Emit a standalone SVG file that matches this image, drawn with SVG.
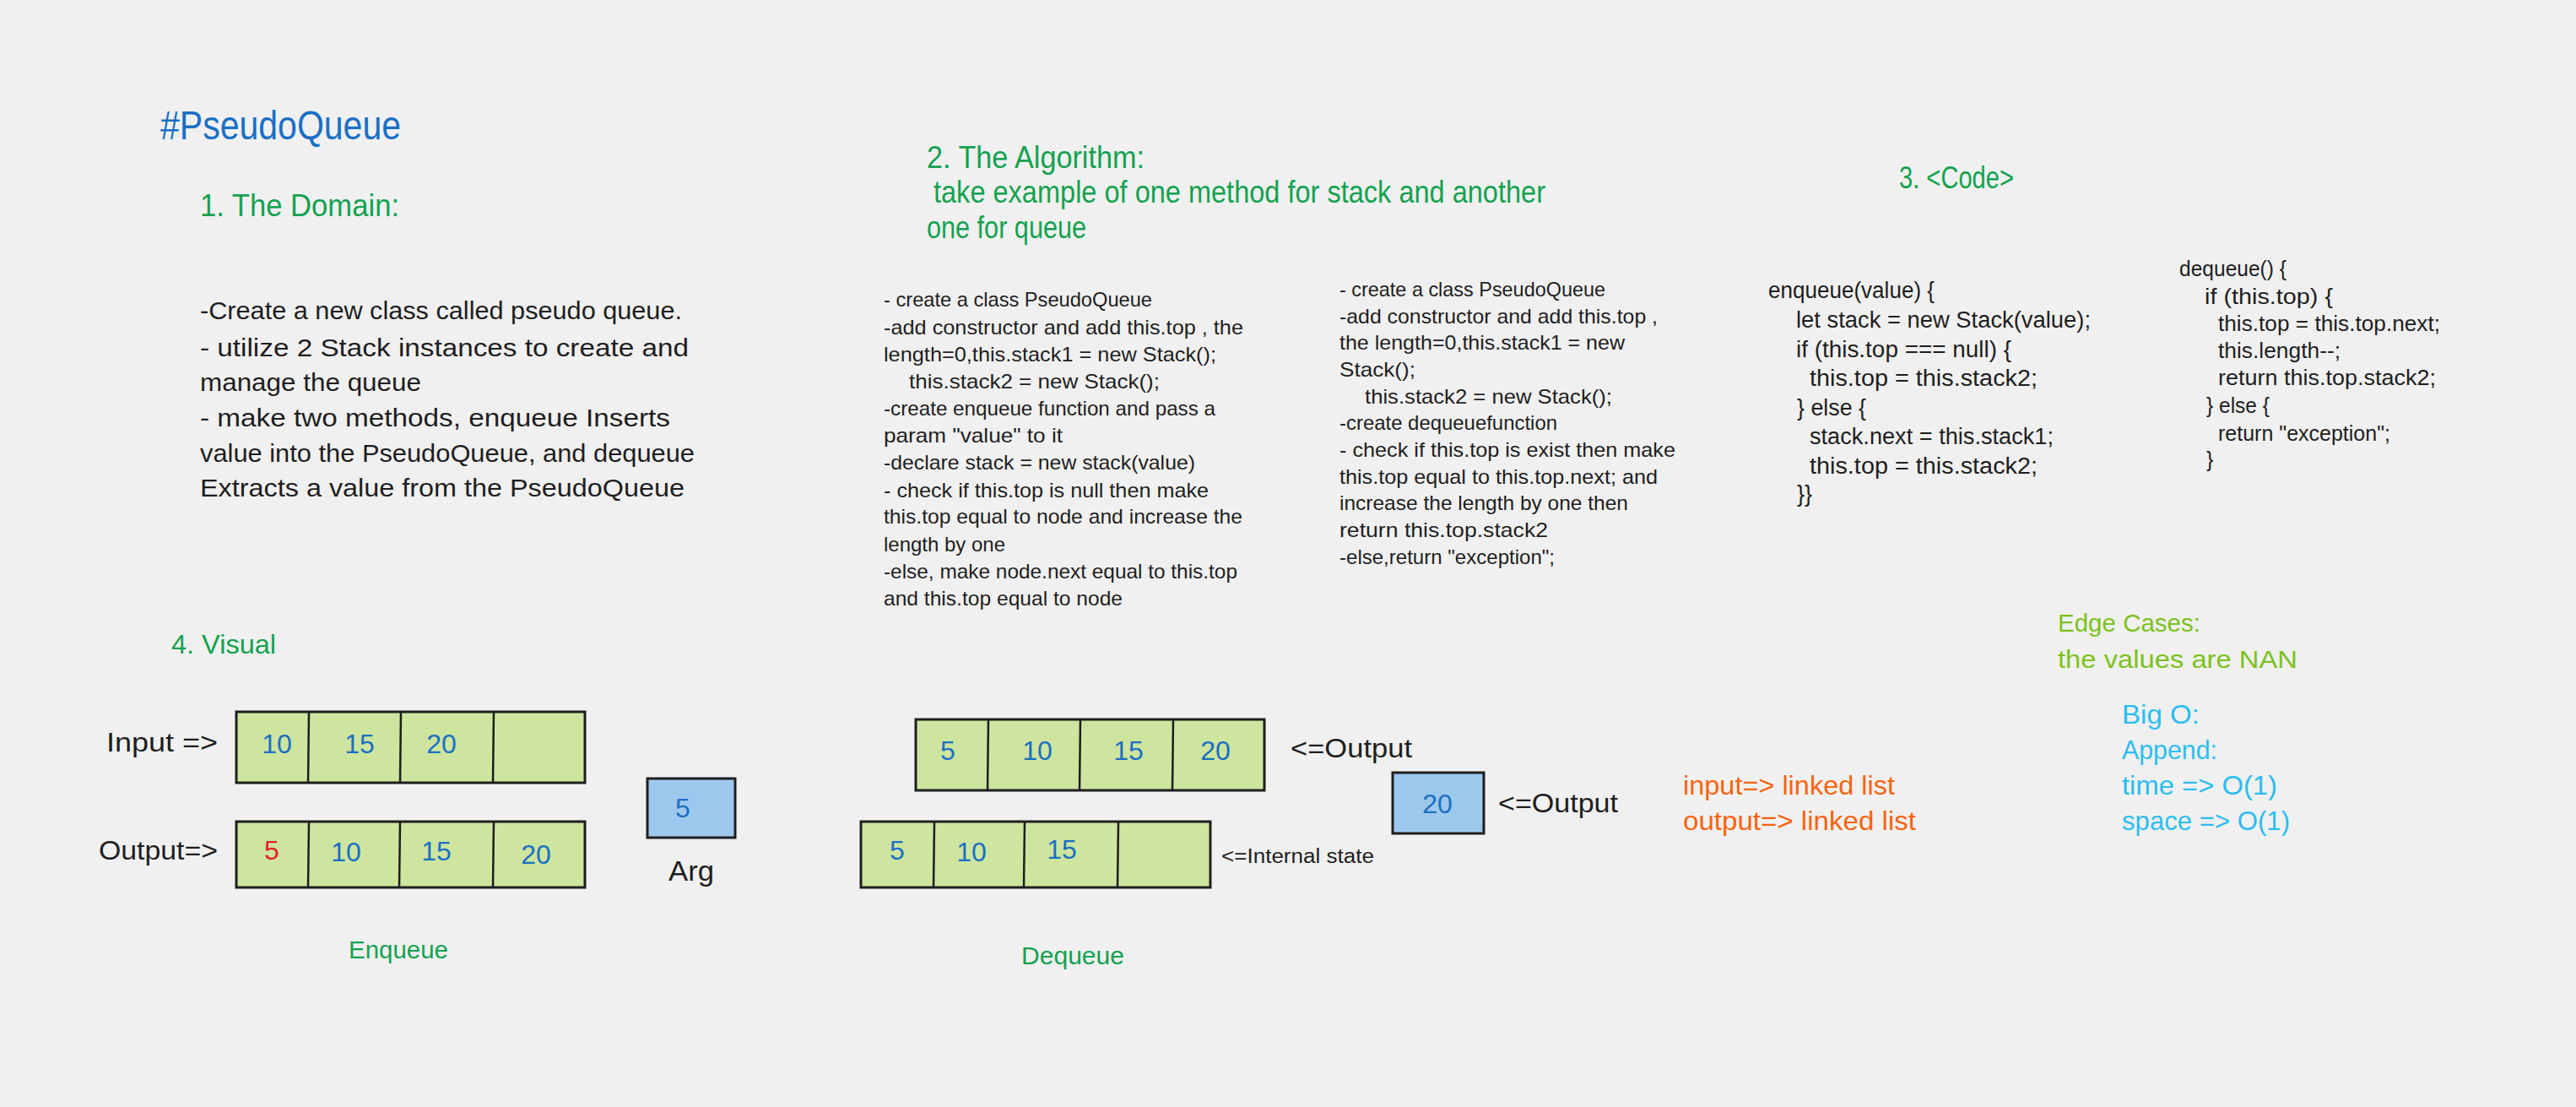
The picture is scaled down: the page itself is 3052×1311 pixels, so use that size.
<svg xmlns="http://www.w3.org/2000/svg" width="3052" height="1311" viewBox="0 0 3052 1311">
<style>
text{font-family:"Liberation Sans","DejaVu Sans",sans-serif;fill:#1e1e1e}
.title{font-size:48px;fill:#1a6fc4}
.h{font-size:37px;fill:#13a24f}
.body{font-size:30px}
.alg{font-size:24px}
.code{font-size:27px}
.dcode{font-size:25px}
.lbl{font-size:32px}
.small{font-size:23px}
.num{font-size:32px;fill:#1a6fc4;text-anchor:middle}
.red{fill:#e8202a}
.cap{font-size:30px;fill:#13a24f}
.orange{font-size:32px;fill:#f7640f}
.edge{font-size:30px;fill:#7bc21c}
.bigo{font-size:32px;fill:#2cbdf0}
.cell{fill:#cde59e;stroke:#1e1e1e;stroke-width:3}
.arg{fill:#9dc8ee;stroke:#1e1e1e;stroke-width:3}
.div{stroke:#1e1e1e;stroke-width:2.5}
</style>
<rect x="0" y="0" width="3052" height="1311" fill="#f0f0f0"/>

<g id="title"><text class="title" x="190" y="165" textLength="285" lengthAdjust="spacingAndGlyphs">#PseudoQueue</text></g>

<g id="domain">
<text class="h" x="237" y="256" textLength="236" lengthAdjust="spacingAndGlyphs">1. The Domain:</text>
<text class="body" x="237" y="378" textLength="571" lengthAdjust="spacingAndGlyphs">-Create a new class called pseudo queue.</text>
<text class="body" x="237" y="422" textLength="579" lengthAdjust="spacingAndGlyphs">- utilize 2 Stack instances to create and</text>
<text class="body" x="237" y="463" textLength="262" lengthAdjust="spacingAndGlyphs">manage the queue</text>
<text class="body" x="237" y="505" textLength="557" lengthAdjust="spacingAndGlyphs">- make two methods, enqueue  Inserts</text>
<text class="body" x="237" y="547" textLength="586" lengthAdjust="spacingAndGlyphs">value into the PseudoQueue, and dequeue</text>
<text class="body" x="237" y="588" textLength="574" lengthAdjust="spacingAndGlyphs">Extracts a value from the PseudoQueue</text>
</g>

<g id="algorithm">
<text class="h" x="1098" y="199" textLength="258" lengthAdjust="spacingAndGlyphs">2. The Algorithm:</text>
<text class="h" x="1106" y="240" textLength="725" lengthAdjust="spacingAndGlyphs">take example of one method for stack and another</text>
<text class="h" x="1098" y="282" textLength="189" lengthAdjust="spacingAndGlyphs">one for queue</text>
</g>

<g id="algorithm-enqueue">
<text class="alg" x="1047" y="363" textLength="318" lengthAdjust="spacingAndGlyphs">- create a class PseudoQueue</text>
<text class="alg" x="1047" y="396" textLength="426" lengthAdjust="spacingAndGlyphs">-add constructor and add this.top , the</text>
<text class="alg" x="1047" y="428" textLength="394" lengthAdjust="spacingAndGlyphs">length=0,this.stack1 = new Stack();</text>
<text class="alg" x="1077" y="460" textLength="297" lengthAdjust="spacingAndGlyphs">this.stack2 = new Stack();</text>
<text class="alg" x="1047" y="492" textLength="393" lengthAdjust="spacingAndGlyphs">-create enqueue function and pass a</text>
<text class="alg" x="1047" y="524" textLength="212" lengthAdjust="spacingAndGlyphs">param "value" to it</text>
<text class="alg" x="1047" y="556" textLength="369" lengthAdjust="spacingAndGlyphs">-declare stack = new stack(value)</text>
<text class="alg" x="1047" y="589" textLength="385" lengthAdjust="spacingAndGlyphs">- check if this.top is null then make</text>
<text class="alg" x="1047" y="620" textLength="425" lengthAdjust="spacingAndGlyphs">this.top equal to node and increase the</text>
<text class="alg" x="1047" y="653" textLength="144" lengthAdjust="spacingAndGlyphs">length by one</text>
<text class="alg" x="1047" y="685" textLength="419" lengthAdjust="spacingAndGlyphs">-else, make node.next equal to this.top</text>
<text class="alg" x="1047" y="717" textLength="283" lengthAdjust="spacingAndGlyphs">and this.top equal to node</text>
</g>

<g id="algorithm-dequeue">
<text class="alg" x="1587" y="351" textLength="315" lengthAdjust="spacingAndGlyphs">- create a class PseudoQueue</text>
<text class="alg" x="1587" y="383" textLength="377" lengthAdjust="spacingAndGlyphs">-add constructor and add this.top ,</text>
<text class="alg" x="1587" y="414" textLength="338" lengthAdjust="spacingAndGlyphs">the length=0,this.stack1 = new</text>
<text class="alg" x="1587" y="446" textLength="90" lengthAdjust="spacingAndGlyphs">Stack();</text>
<text class="alg" x="1617" y="478" textLength="293" lengthAdjust="spacingAndGlyphs">this.stack2 = new Stack();</text>
<text class="alg" x="1587" y="509" textLength="258" lengthAdjust="spacingAndGlyphs">-create dequeuefunction</text>
<text class="alg" x="1587" y="541" textLength="398" lengthAdjust="spacingAndGlyphs">- check if this.top is exist then make</text>
<text class="alg" x="1587" y="573" textLength="377" lengthAdjust="spacingAndGlyphs">this.top equal to this.top.next; and</text>
<text class="alg" x="1587" y="604" textLength="342" lengthAdjust="spacingAndGlyphs">increase the length by one then</text>
<text class="alg" x="1587" y="636" textLength="247" lengthAdjust="spacingAndGlyphs">return this.top.stack2</text>
<text class="alg" x="1587" y="668" textLength="255" lengthAdjust="spacingAndGlyphs">-else,return "exception";</text>
</g>

<g id="code">
<text class="h" x="2250" y="223" textLength="136" lengthAdjust="spacingAndGlyphs">3. &lt;Code&gt;</text>
</g>

<g id="code-enqueue">
<text class="code" x="2095" y="353" textLength="197" lengthAdjust="spacingAndGlyphs">enqueue(value) {</text>
<text class="code" x="2128" y="388" textLength="349" lengthAdjust="spacingAndGlyphs">let stack = new Stack(value);</text>
<text class="code" x="2128" y="423" textLength="255" lengthAdjust="spacingAndGlyphs">if (this.top === null) {</text>
<text class="code" x="2144" y="457" textLength="270" lengthAdjust="spacingAndGlyphs">this.top = this.stack2;</text>
<text class="code" x="2129" y="492" textLength="82" lengthAdjust="spacingAndGlyphs">} else {</text>
<text class="code" x="2144" y="526" textLength="289" lengthAdjust="spacingAndGlyphs">stack.next = this.stack1;</text>
<text class="code" x="2144" y="561" textLength="270" lengthAdjust="spacingAndGlyphs">this.top = this.stack2;</text>
<text class="code" x="2129" y="594">}}</text>
</g>

<g id="code-dequeue">
<text class="dcode" x="2582" y="327" textLength="127" lengthAdjust="spacingAndGlyphs">dequeue() {</text>
<text class="dcode" x="2612" y="360" textLength="152" lengthAdjust="spacingAndGlyphs">if (this.top) {</text>
<text class="dcode" x="2628" y="392" textLength="263" lengthAdjust="spacingAndGlyphs">this.top = this.top.next;</text>
<text class="dcode" x="2628" y="424" textLength="145" lengthAdjust="spacingAndGlyphs">this.length--;</text>
<text class="dcode" x="2628" y="456" textLength="258" lengthAdjust="spacingAndGlyphs">return this.top.stack2;</text>
<text class="dcode" x="2614" y="489" textLength="75" lengthAdjust="spacingAndGlyphs">} else {</text>
<text class="dcode" x="2628" y="522" textLength="204" lengthAdjust="spacingAndGlyphs">return "exception";</text>
<text class="dcode" x="2614" y="553">}</text>
</g>

<g id="visual-heading"><text class="lbl" x="203" y="774" style="fill:#13a24f" textLength="124" lengthAdjust="spacingAndGlyphs">4. Visual</text></g>

<g id="enqueue-input">
<text class="lbl" x="126" y="890" textLength="132" lengthAdjust="spacingAndGlyphs">Input =&gt;</text>
<rect class="cell" x="280" y="843" width="413" height="84"/>
<line class="div" x1="366" y1="843" x2="365" y2="927"/>
<line class="div" x1="475" y1="843" x2="474" y2="927"/>
<line class="div" x1="585" y1="843" x2="584" y2="927"/>
<text class="num" x="328" y="892">10</text>
<text class="num" x="426" y="892">15</text>
<text class="num" x="523" y="892">20</text>
</g>

<g id="enqueue-output">
<text class="lbl" x="117" y="1018" textLength="141" lengthAdjust="spacingAndGlyphs">Output=&gt;</text>
<rect class="cell" x="280" y="973" width="413" height="78"/>
<line class="div" x1="366" y1="973" x2="365" y2="1051"/>
<line class="div" x1="474" y1="973" x2="473" y2="1051"/>
<line class="div" x1="585" y1="973" x2="584" y2="1051"/>
<text class="num red" x="322" y="1018">5</text>
<text class="num" x="410" y="1020">10</text>
<text class="num" x="517" y="1019">15</text>
<text class="num" x="635" y="1023">20</text>
</g>

<g id="arg">
<rect class="arg" x="767" y="922" width="104" height="70"/>
<text class="num" x="809" y="968">5</text>
<text class="lbl" x="792" y="1043" style="font-size:33px" textLength="54" lengthAdjust="spacingAndGlyphs">Arg</text>
</g>

<g id="enqueue-caption"><text class="cap" x="413" y="1135" textLength="118" lengthAdjust="spacingAndGlyphs">Enqueue</text></g>

<g id="dequeue-output">
<rect class="cell" x="1085" y="852" width="413" height="84"/>
<line class="div" x1="1171" y1="852" x2="1170" y2="936"/>
<line class="div" x1="1280" y1="852" x2="1279" y2="936"/>
<line class="div" x1="1390" y1="852" x2="1389" y2="936"/>
<text class="num" x="1123" y="900">5</text>
<text class="num" x="1229" y="900">10</text>
<text class="num" x="1337" y="900">15</text>
<text class="num" x="1440" y="900">20</text>
<text class="lbl" x="1529" y="897" textLength="144" lengthAdjust="spacingAndGlyphs">&lt;=Output</text>
</g>

<g id="dequeue-internal">
<rect class="cell" x="1020" y="973" width="414" height="78"/>
<line class="div" x1="1107" y1="973" x2="1106" y2="1051"/>
<line class="div" x1="1214" y1="973" x2="1213" y2="1051"/>
<line class="div" x1="1325" y1="973" x2="1324" y2="1051"/>
<text class="num" x="1063" y="1018">5</text>
<text class="num" x="1151" y="1020">10</text>
<text class="num" x="1258" y="1017">15</text>
<text class="small" x="1447" y="1022" textLength="181" lengthAdjust="spacingAndGlyphs">&lt;=Internal state</text>
</g>

<g id="dequeue-result">
<rect class="arg" x="1650" y="915" width="108" height="72"/>
<text class="num" x="1703" y="963">20</text>
<text class="lbl" x="1775" y="962" textLength="142" lengthAdjust="spacingAndGlyphs">&lt;=Output</text>
</g>

<g id="dequeue-caption"><text class="cap" x="1210" y="1142" textLength="122" lengthAdjust="spacingAndGlyphs">Dequeue</text></g>

<g id="io-types">
<text class="orange" x="1994" y="941" textLength="251" lengthAdjust="spacingAndGlyphs">input=&gt; linked list</text>
<text class="orange" x="1994" y="983" textLength="276" lengthAdjust="spacingAndGlyphs">output=&gt; linked list</text>
</g>

<g id="edge-cases">
<text class="edge" x="2438" y="748" textLength="169" lengthAdjust="spacingAndGlyphs">Edge Cases:</text>
<text class="edge" x="2438" y="791" textLength="284" lengthAdjust="spacingAndGlyphs">the values are NAN</text>
</g>

<g id="big-o">
<text class="bigo" x="2514" y="857" textLength="92" lengthAdjust="spacingAndGlyphs">Big O:</text>
<text class="bigo" x="2514" y="899" textLength="113" lengthAdjust="spacingAndGlyphs">Append:</text>
<text class="bigo" x="2514" y="941" textLength="184" lengthAdjust="spacingAndGlyphs">time =&gt; O(1)</text>
<text class="bigo" x="2514" y="983" textLength="199" lengthAdjust="spacingAndGlyphs">space =&gt; O(1)</text>
</g>

<g id="connectors"></g>
</svg>
